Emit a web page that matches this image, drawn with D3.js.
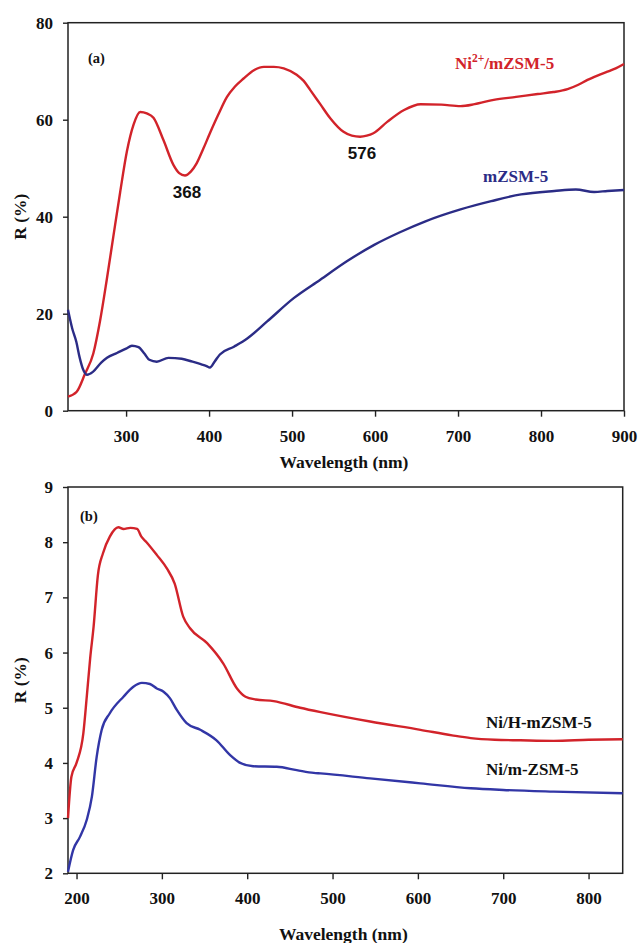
<!DOCTYPE html>
<html><head><meta charset="utf-8">
<script src="https://cdn.jsdelivr.net/npm/d3@7"></script>
<style>
html,body{margin:0;padding:0;background:#fff;}
svg{display:block;}
</style></head>
<body>
<svg id="c" width="640" height="943"></svg>
<script>
// ---- Panel (a) data ----
const aNiWl = [230,240.5,250.5,260.5,268.6,276.7,284.7,292.8,301,309,317,325,333,345,357,364,371,378,385,393,401,411,421.6,431,441.6,454,466,478,490,506,514,522,534,546,562,572,582,590,598,615,635,655,680,703,720,743,770,796,815,832,845,856,868,880,890,900];
const aNiR  = [2.9,3.9,7.6,11.8,18.5,27,36,45,53.5,59,61.6,61.3,60.4,55.8,50.7,49,48.5,49.3,51,54,57.2,61,64.7,66.8,68.5,70.2,70.9,70.9,70.6,69.2,68,66.1,63.2,60.3,57.5,56.7,56.5,56.7,57.2,59.6,62,63.2,63.1,62.8,63.2,64.1,64.7,65.3,65.7,66.3,67.2,68.2,69.1,69.9,70.6,71.5];
const aMzWl = [230,235,240,244,248,253,260,270,277,289,300,307,315,322,328,337,351,367,380,390,397,401,407,413,430,446,470,502,534,566,599,630,660,703,740,776,816,842,864,880,900];
const aMzR  = [20.8,17,14.2,11,8.6,7.4,8.0,9.9,10.9,11.9,12.8,13.4,13.1,11.8,10.5,10.1,10.9,10.7,10.1,9.6,9.2,8.9,10.2,11.6,13.2,14.9,18.4,23.2,27.0,30.8,34.2,36.8,39.0,41.5,43.2,44.6,45.3,45.6,45.1,45.3,45.5];
const aXTicks = [300,400,500,600,700,800,900];
const aYTicks = [0,20,40,60,80];

// ---- Panel (b) data ----
const bNiWl = [190,194,200,208,212,216,220,225,231,239,249,255,263,271,276,282,294,306,315,325,333,353,372,388,398,410,431,462,486,544,603,640,662,690,720,759,800,840];
const bNiR  = [3.0,3.75,4.0,4.54,5.2,5.9,6.47,7.4,7.8,8.1,8.27,8.24,8.26,8.24,8.1,8.0,7.77,7.52,7.25,6.65,6.44,6.17,5.8,5.35,5.2,5.15,5.12,5.0,4.92,4.75,4.6,4.5,4.45,4.42,4.41,4.4,4.42,4.43];
const bMWl = [190,196,204,212,218,223.6,229.5,239,255,266.6,276.5,286,294,302,309.6,317.5,329,345,364,380,391.8,407,434.6,458,478,486,544,603,662,700,759,840];
const bMR  = [2.03,2.42,2.66,2.97,3.39,4.11,4.6,4.9,5.2,5.38,5.45,5.43,5.35,5.29,5.17,4.96,4.72,4.6,4.41,4.14,4.0,3.94,3.93,3.87,3.82,3.81,3.72,3.63,3.54,3.51,3.48,3.45];
const bXTicks = [200,300,400,500,600,700,800];
const bYTicks = [2,3,4,5,6,7,8,9];

const RED = "#d2232a", NAVY = "#2b2c86", BLUE = "#3236a6";
const SERIF = "'Liberation Serif','Times New Roman','DejaVu Serif',serif";
const SANS = "'Liberation Sans',Arial,sans-serif";
const svg = d3.select("#c");

function serifText(sel, size, fill){
  return sel.style("font-family", SERIF).style("font-weight","bold").style("font-size", size+"px").attr("fill", fill||"#111");
}

function panel(cfg){
  const g = svg.append("g");
  const x = d3.scaleLinear().domain(cfg.xDom).range([cfg.left, cfg.right]);
  const y = d3.scaleLinear().domain(cfg.yDom).range([cfg.bottom, cfg.top]);
  const ax = g.append("g").attr("transform",`translate(0,${cfg.bottom})`)
    .call(d3.axisBottom(x).tickValues(cfg.xTicks).tickFormat(d3.format("d")).tickSize(6).tickSizeOuter(0).tickPadding(13));
  const ay = g.append("g").attr("transform",`translate(${cfg.left},0)`)
    .call(d3.axisLeft(y).tickValues(cfg.yTicks).tickFormat(d3.format("d")).tickSize(5).tickSizeOuter(0).tickPadding(10));
  [ax,ay].forEach(a=>{
    a.select(".domain").remove();
    a.selectAll("line").attr("stroke","#222").attr("stroke-width",1.4);
    serifText(a.selectAll("text"), 17);
  });
  g.append("rect").attr("x",cfg.left).attr("y",cfg.top).attr("width",cfg.right-cfg.left).attr("height",cfg.bottom-cfg.top)
    .attr("fill","none").attr("stroke","#222").attr("stroke-width",1.5);
  const line = d3.line().x(d=>x(d[0])).y(d=>y(d[1])).curve(d3.curveMonotoneX);
  cfg.series.forEach(s=>{
    const pts = s.wl.map((w,i)=>[w,s.r[i]]);
    g.append("path").datum(pts).attr("d",line).attr("fill","none").attr("stroke",s.color).attr("stroke-width",2.4).attr("stroke-linejoin","round");
  });
  serifText(g.append("text").attr("x",(cfg.left+cfg.right)/2-2).attr("y",cfg.titleY).attr("text-anchor","middle"), 17.5).text("Wavelength (nm)");
  serifText(g.append("text").attr("transform",`translate(26,${(cfg.top+cfg.bottom)/2}) rotate(-90)`).attr("text-anchor","middle"), 17.5).text("R (%)");
  return {g,x,y};
}

const A = panel({xDom:[230,900], yDom:[0,80], left:68, right:624, top:22.7, bottom:410.7,
  xTicks:aXTicks, yTicks:aYTicks, titleY:468,
  series:[{wl:aNiWl,r:aNiR,color:RED},{wl:aMzWl,r:aMzR,color:NAVY}]});
serifText(A.g.append("text").attr("x",88).attr("y",63), 14.5).text("(a)");
A.g.append("text").attr("x",187).attr("y",198).attr("text-anchor","middle").style("font-family",SANS).style("font-weight","bold").style("font-size","17px").attr("fill","#111").text("368");
A.g.append("text").attr("x",362).attr("y",159).attr("text-anchor","middle").style("font-family",SANS).style("font-weight","bold").style("font-size","17px").attr("fill","#111").text("576");
const t1 = serifText(A.g.append("text").attr("x",455).attr("y",69), 17, RED);
t1.append("tspan").text("Ni");
t1.append("tspan").attr("dy",-7).style("font-size","11.5px").text("2+");
t1.append("tspan").attr("dy",7).text("/mZSM-5");
serifText(A.g.append("text").attr("x",483).attr("y",182), 17, NAVY).text("mZSM-5");

const B = panel({xDom:[190,840], yDom:[2,9], left:68, right:622.7, top:487, bottom:873.3,
  xTicks:bXTicks, yTicks:bYTicks, titleY:940,
  series:[{wl:bNiWl,r:bNiR,color:RED},{wl:bMWl,r:bMR,color:BLUE}]});
serifText(B.g.append("text").attr("x",80).attr("y",521), 14.5).text("(b)");
serifText(B.g.append("text").attr("x",486).attr("y",728), 17).text("Ni/H-mZSM-5");
serifText(B.g.append("text").attr("x",486).attr("y",775), 17).text("Ni/m-ZSM-5");
</script>
</body></html>
